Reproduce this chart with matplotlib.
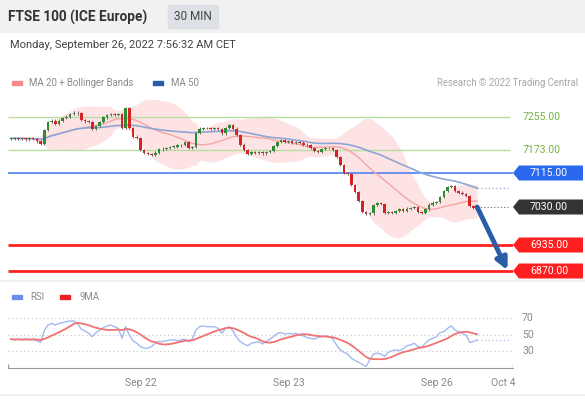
import numpy as np
import pandas as pd
import matplotlib
matplotlib.use("Agg")
import matplotlib.pyplot as plt
from matplotlib.patches import Polygon, Rectangle
from matplotlib.transforms import IdentityTransform, blended_transform_factory

plt.rcParams['font.family'] = ['Roboto', 'DejaVu Sans']

# 30 min closes
closes = [7201, 7203, 7200, 7202, 7199, 7202, 7200, 7194, 7188, 7222,
          7243, 7246, 7238, 7246, 7252, 7256, 7262, 7266, 7264, 7248,
          7244, 7242, 7226, 7232, 7242, 7254, 7260, 7263, 7261, 7262,
          7228, 7278, 7228, 7206, 7203, 7172, 7165, 7162, 7160, 7166,
          7174, 7176, 7177, 7180, 7181, 7184, 7185, 7192, 7178, 7180,
          7215, 7226, 7227, 7228, 7226, 7228, 7225, 7214, 7228, 7235,
          7226, 7210, 7186, 7172, 7162, 7168, 7166, 7168, 7164, 7167,
          7170, 7182, 7192, 7197, 7193, 7194, 7190, 7193, 7191, 7186,
          7184, 7177, 7170, 7167, 7175, 7177, 7178, 7172, 7155, 7135,
          7115, 7112, 7085, 7068, 7045, 7018, 7012, 7014, 7035, 7040,
          7038, 7015, 7018, 7016, 7020, 7024, 7021, 7026, 7028, 7030,
          7018, 7015, 7024, 7036, 7041, 7043, 7055, 7070, 7080, 7083,
          7070, 7066, 7062, 7058, 7032, 7027, 7030]

rsi = [45, 44, 45, 44, 45, 44, 45, 43, 41, 55,
       62, 64, 62, 64, 65, 66, 67, 67, 64, 57,
       55, 52, 48, 53, 56, 59, 61, 62, 60, 58,
       46, 60, 50, 43, 40, 36, 34, 34, 36, 40,
       42, 42, 43, 44, 44, 43, 44, 45, 42, 45,
       56, 60, 61, 60, 60, 60, 58, 52, 58, 60,
       55, 47, 42, 39, 37, 40, 41, 42, 39, 42,
       45, 48, 52, 53, 51, 52, 51, 52, 50, 49,
       47, 46, 45, 47, 48, 49, 48, 45, 38, 32,
       29, 27, 22, 19, 17, 14, 12, 20, 27, 28,
       27, 24, 29, 31, 32, 31, 33, 37, 38, 40,
       36, 35, 40, 44, 46, 48, 53, 54, 58, 61,
       56, 54, 52, 50, 41, 42, 44]

resistances = [7255.0, 7173.0]
pivot = 7115.0
last_price = 7030.0
supports = [6935.0, 6870.0]
day_labels = ['Sep 22', 'Sep 23', 'Sep 26', 'Oct 4']
day_pos = [35, 75, 115, 133]
rsi_levels = [70, 50, 30]

W, H = 585, 399
fig = plt.figure(figsize=(W / 100, H / 100), dpi=100)


def px_axes(x0, y0, x1, y1):
    return fig.add_axes([x0 / W, 1 - y1 / H, (x1 - x0) / W, (y1 - y0) / H])


def fx(x):
    return x / W


def fy(y):
    return 1 - y / H


# header
fig.add_artist(Rectangle((0, fy(32)), 1, 32 / H, transform=fig.transFigure,
                         color='#f1f1f1', zorder=0))
fig.text(fx(8), fy(17), 'FTSE 100 (ICE Europe)', fontsize=9.8, weight='bold',
         color='#333333', va='center')
fig.add_artist(Rectangle((fx(168), fy(28)), 50 / W, 23 / H, transform=fig.transFigure,
                         color='#dde1e6', zorder=1))
fig.text(fx(193), fy(17), '30 MIN', fontsize=8.5, color='#444444', va='center', ha='center')
fig.text(fx(10), fy(45), 'Monday, September 26, 2022 7:56:32 AM CET', fontsize=8,
         color='#444444', va='center')

# legends
fig.add_artist(Rectangle((fx(12), fy(85)), 10 / W, 4 / H, transform=fig.transFigure,
                         color='#f58a8a'))
fig.text(fx(29), fy(83), 'MA 20 + Bollinger Bands', fontsize=6.9, color='#8a8a8a', va='center')
fig.add_artist(Rectangle((fx(153), fy(85)), 10 / W, 4 / H, transform=fig.transFigure,
                         color='#2a5caa'))
fig.text(fx(171), fy(83), 'MA 50', fontsize=6.9, color='#8a8a8a', va='center')
fig.text(fx(578), fy(83), 'Research \u00a9 2022 Trading Central', fontsize=6.9,
         color='#a8a8a8', va='center', ha='right')

fig.add_artist(Rectangle((fx(12), fy(299)), 10 / W, 4 / H, transform=fig.transFigure,
                         color='#6b8fe8'))
fig.text(fx(30), fy(297), 'RSI', fontsize=6.9, color='#8a8a8a', va='center')
fig.add_artist(Rectangle((fx(60), fy(299)), 10 / W, 4 / H, transform=fig.transFigure,
                         color='#ee2222'))
fig.text(fx(79), fy(297), '9MA', fontsize=6.9, color='#8a8a8a', va='center')

for yy in [281, 395]:
    fig.add_artist(plt.Line2D([0, 1], [fy(yy), fy(yy)], transform=fig.transFigure,
                              color='#edf0f3', lw=1.5))

# price panel
c = pd.Series(closes, dtype=float)
n = len(c)
idx = np.arange(n)
opens = c.shift(1).fillna(c.iloc[0]).values
ma20 = c.rolling(20, min_periods=1).mean()
sd20 = c.rolling(20, min_periods=1).std(ddof=0)
upper = ma20 + 2 * sd20
lower = ma20 - 2 * sd20
ma50 = c.rolling(50, min_periods=1).mean()

x0, x1 = -0.8, 135.7
ax = px_axes(8, 95, 513, 280)
ax.set_xlim(x0, x1)
ax.set_ylim(6847.5, 7310)
ax.axis('off')

ax.fill_between(idx, lower, upper, color='#fde3e3', lw=0, zorder=1)
ax.plot(idx, ma20, color='#f6a5a5', lw=1, zorder=2)
ax.plot(idx, ma50, color='#8ea6d6', lw=1.2, zorder=2)

for lv in resistances:
    ax.hlines(lv, x0, 134.9, color='#b9dca0', lw=1, zorder=1)
ax.hlines(pivot, x0, x1, color='#4f80ee', lw=1.2, zorder=1)
for lv in supports:
    ax.hlines(lv, x0, x1, color='#ff2020', lw=2, zorder=1)

cl = c.values
hi = np.maximum(opens, cl) + 3
lo = np.minimum(opens, cl) - 3
up = cl >= opens
cols = np.where(up, '#2f8a36', '#d62424')
ax.vlines(idx, lo, hi, color='#555555', lw=0.6, zorder=3)
body = np.maximum(np.abs(cl - opens), 1.5)
ax.bar(idx, body, bottom=np.minimum(opens, cl), width=0.7, color=cols, lw=0, zorder=4)

ax.hlines(cl[-1], n - 1, 134.9, color='#666666', lw=0.8, linestyles=(0, (1, 2)), zorder=2)
ax.hlines(ma50.iloc[-1], n - 1, 134.9, color='#8ea6d6', lw=0.9, linestyles=(0, (1, 2)), zorder=2)

ax.annotate('', xy=(134.2, 6872), xytext=(n - 1, cl[-1]),
            arrowprops=dict(arrowstyle='-|>', color='#2b5ca8', lw=3.5,
                            mutation_scale=17, shrinkA=0, shrinkB=0), zorder=5)

# right side labels
fig.canvas.draw()
for lv in resistances:
    yc = ax.transData.transform((0, lv))[1]
    fig.text(523, yc, f'{lv:.2f}', transform=IdentityTransform(), fontsize=7.6,
             color='#78b447', va='center')

for lv, col in [(pivot, '#2a68f0'), (last_price, '#333333'),
                (supports[0], '#ff1f1f'), (supports[1], '#ff1f1f')]:
    yc = ax.transData.transform((0, lv))[1]
    pts = [(513, yc), (519, yc + 7.5), (583, yc + 7.5), (583, yc - 7.5), (519, yc - 7.5)]
    fig.add_artist(Polygon(pts, closed=True, transform=IdentityTransform(),
                           color=col, lw=0))
    fig.text(549, yc, f'{lv:.2f}', transform=IdentityTransform(), fontsize=7.6,
             color='white', va='center', ha='center')

# RSI panel
r = pd.Series(rsi, dtype=float)
ma9 = r.rolling(9, min_periods=1).mean()
ax2 = px_axes(8, 290, 513, 368)
ax2.set_xlim(x0, x1)
ax2.set_ylim(10, 104.5)
for s in ['top', 'left', 'right']:
    ax2.spines[s].set_visible(False)
ax2.spines['bottom'].set_color('#999999')
ax2.set_yticks([])
ax2.set_xticks(day_pos)
ax2.set_xticklabels(day_labels)
ax2.tick_params(axis='x', length=0, pad=7, labelsize=7.5, labelcolor='#888888')
ax2.vlines([x0 + 0.05, x1 - 0.05], 10, 15, color='#999999', lw=1)
for lv in rsi_levels:
    ax2.hlines(lv, x0, x1, color='#c4c4c4', lw=0.8, linestyles=(0, (1, 2.5)))
    ax2.text(1.018, lv, str(lv), transform=blended_transform_factory(ax2.transAxes, ax2.transData),
             fontsize=7.5, color='#888888', va='center')
ax2.plot(idx, r, color='#a3b9f0', lw=1)
ax2.plot(idx, ma9, color='#f07272', lw=1.3)
ax2.hlines(r.iloc[-1], n - 1, 134.9, color='#a3b9f0', lw=0.9, linestyles=(0, (1, 2)))

fig.savefig('out.png', dpi=100)
